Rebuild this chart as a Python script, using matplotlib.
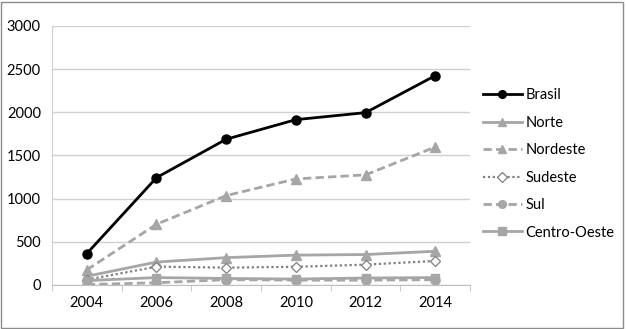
import matplotlib
matplotlib.use("Agg")
import matplotlib.pyplot as plt
from matplotlib.patches import Rectangle

years = ["2004", "2006", "2008", "2010", "2012", "2014"]
brasil = [363, 1243, 1688, 1915, 1996, 2425]
norte = [100, 265, 316, 345, 352, 390]
nordeste = [174, 703, 1035, 1228, 1275, 1598]
sudeste = [60, 212, 200, 210, 235, 278]
sul = [5, 25, 60, 55, 55, 60]
centro_oeste = [50, 85, 75, 68, 80, 85]

plt.rcParams['font.family'] = ['Lato', 'DejaVu Sans']
gray = '#a6a6a6'

fig = plt.figure(figsize=(6.26, 3.29), dpi=100)
ax = fig.add_axes([0.083, 0.134, 0.668, 0.787])
x = list(range(len(years)))

ax.plot(x, brasil, color='black', lw=2, marker='o', ms=6.5, label='Brasil', zorder=5)
ax.plot(x, norte, color=gray, lw=2, marker='^', ms=7, label='Norte')
ax.plot(x, nordeste, color=gray, lw=2, ls=(0, (3, 1.5)), marker='^', ms=7, label='Nordeste')
ax.plot(x, sudeste, color='#7f7f7f', lw=1.6, ls=(0, (1, 1.2)), marker='D', ms=5.5,
        mfc='white', mec='#7f7f7f', mew=0.9, label='Sudeste')
ax.plot(x, sul, color=gray, lw=2, ls=(0, (3, 1.5)), marker='o', ms=6.5, label='Sul')
ax.plot(x, centro_oeste, color=gray, lw=2, marker='s', ms=6, label='Centro-Oeste')

ax.set_xlim(-0.5, len(years) - 0.5)
ax.set_ylim(0, 3000)
ax.set_yticks(range(0, 3001, 500))
ax.set_xticks(x)
ax.set_xticklabels(years)
ax.set_xticks([i + 0.5 for i in range(-1, len(years))], minor=True)
ax.tick_params(axis='x', which='major', length=0, labelsize=10.5, pad=8)
ax.tick_params(axis='x', which='minor', length=4, color='#bfbfbf', direction='out')
ax.tick_params(axis='y', length=0, labelsize=10.5, pad=8)
ax.grid(axis='y', color='#d0d0d0', lw=1)
ax.set_axisbelow(True)
for s in ['top', 'right']:
    ax.spines[s].set_visible(False)
ax.spines['left'].set_color('#d0d0d0')
ax.spines['bottom'].set_color('#bfbfbf')

ax.legend(loc='center left', bbox_to_anchor=(1.0, 0.467), frameon=False, fontsize=10.5,
          handlelength=2.7, labelspacing=0.92, handletextpad=0.25, borderaxespad=0.45,
          markerscale=0.85)

fig.patches.append(Rectangle((0.002, 0.003), 0.994, 0.992, transform=fig.transFigure,
                             fill=False, edgecolor='#8c8c8c', lw=1))
fig.savefig('out.png', dpi=100)
